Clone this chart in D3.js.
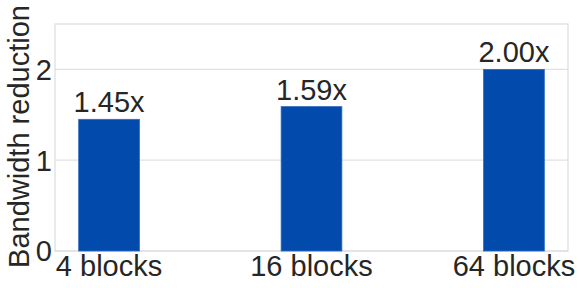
<!DOCTYPE html>
<html>
<head>
<meta charset="utf-8">
<script src="https://cdn.jsdelivr.net/npm/d3@7"></script>
<style>
  body { margin: 0; background: #fff; }
  text { font-family: "Liberation Sans", Arial, sans-serif; fill: #262626; }
</style>
</head>
<body>
<div id="chart"></div>
<script>
// data
const categories = ["4 blocks", "16 blocks", "64 blocks"];
const reduction = [1.45, 1.59, 2.00];
const valueLabels = ["1.45x", "1.59x", "2.00x"];
const yTicks = [0, 1, 2];

const W = 582, H = 288;
const margin = {top: 24, right: 14, bottom: 37, left: 55};
const width = W - margin.left - margin.right;
const height = H - margin.top - margin.bottom;
const fontSize = "29px";

const svg = d3.select("#chart").append("svg")
    .attr("width", W)
    .attr("height", H);

const g = svg.append("g")
    .attr("transform", "translate(" + margin.left + "," + margin.top + ")");

// index based x, like matplotlib's default bar layout
const x = d3.scaleLinear()
    .domain([-0.267, categories.length - 1 + 0.267])
    .range([0, width]);
const barW = 0.3;

const y = d3.scaleLinear()
    .domain([0, 2.5])
    .range([height, 0]);

// grid lines
g.selectAll(".grid")
    .data(yTicks)
    .enter().append("line")
    .attr("class", "grid")
    .attr("x1", 0)
    .attr("x2", width)
    .attr("y1", d => y(d))
    .attr("y2", d => y(d))
    .attr("stroke", "#e2e2e2")
    .attr("stroke-width", 1.2);

// frame
g.append("rect")
    .attr("width", width)
    .attr("height", height)
    .attr("fill", "none")
    .attr("stroke", "#dcdcdc")
    .attr("stroke-width", 1.2);

// bars
g.selectAll(".bar")
    .data(reduction)
    .enter().append("rect")
    .attr("class", "bar")
    .attr("x", (d, i) => x(i - barW / 2))
    .attr("width", (d, i) => x(i + barW / 2) - x(i - barW / 2))
    .attr("y", d => y(d))
    .attr("height", d => height - y(d))
    .attr("fill", "#024bac")
    .attr("stroke", "#2f68bb")
    .attr("stroke-width", 0.8);

// value labels
g.selectAll(".val")
    .data(reduction)
    .enter().append("text")
    .attr("class", "val")
    .attr("x", (d, i) => x(i))
    .attr("y", d => y(d) - 7)
    .attr("text-anchor", "middle")
    .style("font-size", fontSize)
    .text((d, i) => valueLabels[i]);

// y tick labels
g.selectAll(".ytick")
    .data(yTicks)
    .enter().append("text")
    .attr("class", "ytick")
    .attr("x", -3)
    .attr("y", d => y(d))
    .attr("dy", "0.36em")
    .attr("text-anchor", "end")
    .style("font-size", fontSize)
    .text(d => d);

// x tick labels
g.selectAll(".xtick")
    .data(categories)
    .enter().append("text")
    .attr("class", "xtick")
    .attr("x", (d, i) => x(i))
    .attr("y", height + 25)
    .attr("text-anchor", "middle")
    .style("font-size", fontSize)
    .text(d => d);

// y axis title
svg.append("text")
    .attr("transform", "translate(29," + (margin.top + height / 2 - 1) + ") rotate(-90)")
    .attr("text-anchor", "middle")
    .style("font-size", fontSize)
    .text("Bandwidth reduction");
</script>
</body>
</html>
